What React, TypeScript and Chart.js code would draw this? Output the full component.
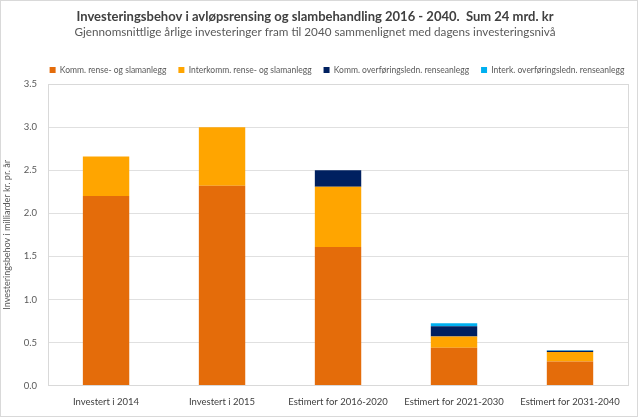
import React, { useEffect, useRef } from "react";
import { Chart, registerables } from "chart.js";

Chart.register(...registerables);

const categories = [
  "Investert i 2014",
  "Investert i 2015",
  "Estimert for 2016-2020",
  "Estimert for 2021-2030",
  "Estimert for 2031-2040",
];
const seriesNames = [
  "Komm. rense- og slamanlegg",
  "Interkomm. rense- og slamanlegg",
  "Komm. overføringsledn. renseanlegg",
  "Interk. overføringsledn. renseanlegg",
];
const kommRense = [2.2, 2.32, 1.61, 0.44, 0.28];
const interkommRense = [0.46, 0.68, 0.7, 0.13, 0.11];
const kommOverf = [0, 0, 0.19, 0.12, 0.015];
const interkOverf = [0, 0, 0, 0.035, 0.004];
const colors = ["#E46C0A", "#FFA500", "#002060", "#00B0F0"];
const titleText = "Investeringsbehov i avløpsrensing og slambehandling 2016 - 2040.  Sum 24 mrd. kr";
const subtitleText = "Gjennomsnittlige årlige investeringer fram til 2040 sammenlignet med dagens investeringsnivå";
const yTitle = "Investeringsbehov i milliarder kr. pr. år";

const FONT = "Lato, 'Noto Sans', sans-serif";

const plotBorder = {
  id: "plotBorder",
  afterLayout(chart: any) {
    if (chart.legend) {
      chart.legend.left += 22;
      chart.legend.right += 22;
    }
  },
  beforeDatasetsDraw(chart: any) {
    const { ctx, chartArea: a } = chart;
    ctx.save();
    ctx.strokeStyle = "#D9D9D9";
    ctx.lineWidth = 1;
    ctx.strokeRect(Math.round(a.left) + 0.5, Math.round(a.top) + 0.5, Math.round(a.right - a.left), Math.round(a.bottom - a.top));
    ctx.restore();
  },
};

export default function App() {
  const ref = useRef<HTMLCanvasElement>(null);
  useEffect(() => {
    document.body.style.margin = "0";
    const values = [kommRense, interkommRense, kommOverf, interkOverf];
    const chart = new Chart(ref.current!, {
      type: "bar",
      data: {
        labels: categories,
        datasets: seriesNames.map((n, i) => ({
          label: n,
          data: values[i],
          backgroundColor: colors[i],
          borderWidth: 0,
          barPercentage: 0.4,
          categoryPercentage: 1,
        })),
      },
      plugins: [plotBorder],
      options: {
        animation: false,
        responsive: false,
        maintainAspectRatio: false,
        layout: { padding: { left: 1, right: 9, top: 4, bottom: 5 } },
        plugins: {
          title: {
            display: true,
            text: titleText,
            color: "#404040",
            font: { family: FONT, size: 13, weight: "bold" },
            padding: { top: 4, bottom: 0 },
          },
          subtitle: {
            display: true,
            text: subtitleText,
            color: "#595959",
            font: { family: FONT, size: 11.7 },
            padding: { top: 1, bottom: 14 },
          },
          legend: {
            position: "top",
            labels: {
              boxWidth: 6,
              boxHeight: 6,
              padding: 12,
              color: "#595959",
              font: { family: FONT, size: 8.5 },
            },
          },
          tooltip: { enabled: false },
        },
        scales: {
          x: {
            stacked: true,
            grid: { display: false },
            border: { color: "#D9D9D9" },
            ticks: { color: "#404040", font: { family: FONT, size: 9.5 }, maxRotation: 0 },
          },
          y: {
            stacked: true,
            min: 0,
            max: 3.5,
            grid: { color: "#E0E0E0", drawTicks: false },
            border: { display: false },
            ticks: {
              stepSize: 0.5,
              padding: 11,
              color: "#595959",
              font: { family: FONT, size: 9.5 },
              callback: (v: any) => Number(v).toFixed(1),
            },
            title: {
              display: true,
              text: yTitle,
              color: "#595959",
              font: { family: FONT, size: 9 },
              padding: { top: 0, bottom: 0 },
            },
          },
        },
      },
    });
    return () => chart.destroy();
  }, []);
  return (
    <div style={{ position: "absolute", left: 0, top: 0, width: 638, height: 417, boxSizing: "border-box", border: "1px solid #D9D9D9", background: "#fff" }}>
      <canvas ref={ref} width={636} height={415} />
    </div>
  );
}
